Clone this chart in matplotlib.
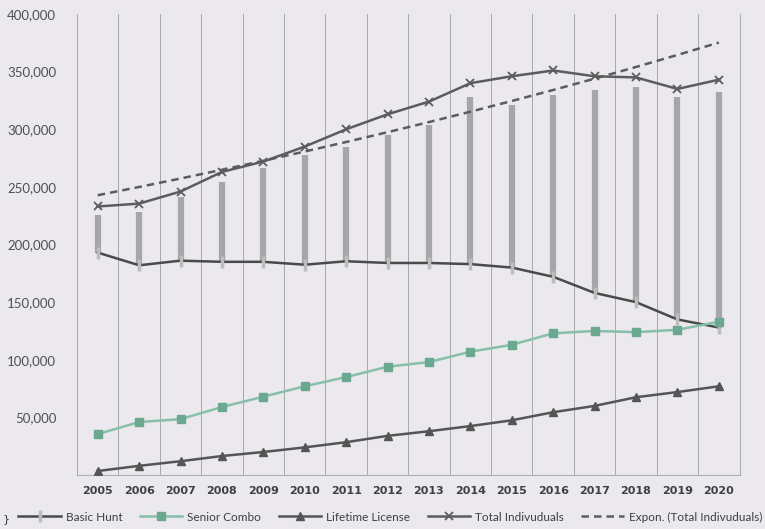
import matplotlib
matplotlib.use("Agg")
import matplotlib.pyplot as plt
import numpy as np

years = list(range(2005, 2021))
basic_hunt = [193000, 182000, 186000, 185000, 185000, 182500, 185500, 184000,
              184000, 183000, 180000, 172000, 158000, 150000, 135000, 128000]
senior_combo = [35500, 46000, 48500, 59000, 68000, 77000, 85000, 94000,
                98000, 107000, 113000, 123000, 125000, 124000, 126000, 133000]
lifetime_license = [3500, 8000, 12000, 16500, 20000, 24000, 28500, 34000,
                    38000, 42500, 47500, 54500, 60000, 67500, 72000, 77000]
total_individuals = [233000, 235500, 246000, 263000, 272000, 285000, 300000, 313000,
                     324000, 340000, 346000, 351000, 346000, 345000, 335000, 343000]
# upper ends of the Basic Hunt marker stems
stem_top = [226000, 228500, 241500, 254500, 266500, 278000, 285000, 295000,
            304000, 328000, 321000, 330000, 334000, 337000, 328000, 332500]

bg = "#ebe8ee"
fig = plt.figure(figsize=(7.65, 5.29), dpi=100, facecolor=bg)
ax = fig.add_axes([0.1007, 0.102, 0.866, 0.8715], facecolor=bg)

x = np.arange(len(years))

# exponential trendline fitted to the totals
b, a = np.polyfit(x, np.log(total_individuals), 1)
trend = np.exp(a + b * x)

ax.vlines(x, basic_hunt, stem_top, color="#8a8a8a", lw=4.5, alpha=0.7, zorder=2)
ax.plot(x, basic_hunt, color="#4a4a4a", lw=1.8, marker="|", ms=9, mec="#bdbdbd",
        mew=2.5, label="Basic Hunt", zorder=3)
ax.plot(x, senior_combo, color="#86c0a8", lw=1.8, marker="s", ms=6, mfc="#6aa890",
        mec="#6aa890", label="Senior Combo", zorder=3)
ax.plot(x, lifetime_license, color="#555555", lw=1.8, marker="^", ms=6,
        label="Lifetime License", zorder=3)
ax.plot(x, total_individuals, color="#5c5c5c", lw=1.8, marker="x", ms=6, mew=1.3,
        label="Total Indivuduals", zorder=3)
ax.plot(x, trend, color="#5c5c5c", lw=1.8, ls=(0, (3, 2)),
        label="Expon. (Total Indivuduals)", zorder=3)

ax.set_xlim(-0.5, len(years) - 0.5)
ax.set_ylim(0, 400000)

# category separators
for xb in np.arange(-0.5, len(years), 1.0):
    ax.axvline(xb, color="#a8a8a8", lw=0.7, zorder=1)

ax.set_yticks(range(50000, 400001, 50000))
ax.set_yticklabels([f"{v:,}" for v in range(50000, 400001, 50000)],
                   fontname="Lato", fontsize=9.5, color="#505050")
ax.set_xticks(x)
ax.set_xticklabels([str(y) for y in years], fontname="DejaVu Sans",
                   fontweight="bold", fontsize=8, color="#404040")
ax.tick_params(axis="y", length=0, pad=15)
ax.tick_params(axis="x", length=0, pad=8)

for side in ["top", "left"]:
    ax.spines[side].set_visible(False)
ax.spines["bottom"].set_color("#b0b0b0")
ax.spines["right"].set_color("#b0b0b0")

fig.legend(loc="lower center", bbox_to_anchor=(0.51, -0.008), ncol=5, frameon=False,
           prop={"family": "Lato", "size": 8.5}, handlelength=3.6,
           columnspacing=1.5, handletextpad=0.4, labelcolor="#404040")
fig.text(0.004, 0.014, "}", fontsize=8, color="#404040")

fig.savefig("out.png", dpi=100, facecolor=bg)
